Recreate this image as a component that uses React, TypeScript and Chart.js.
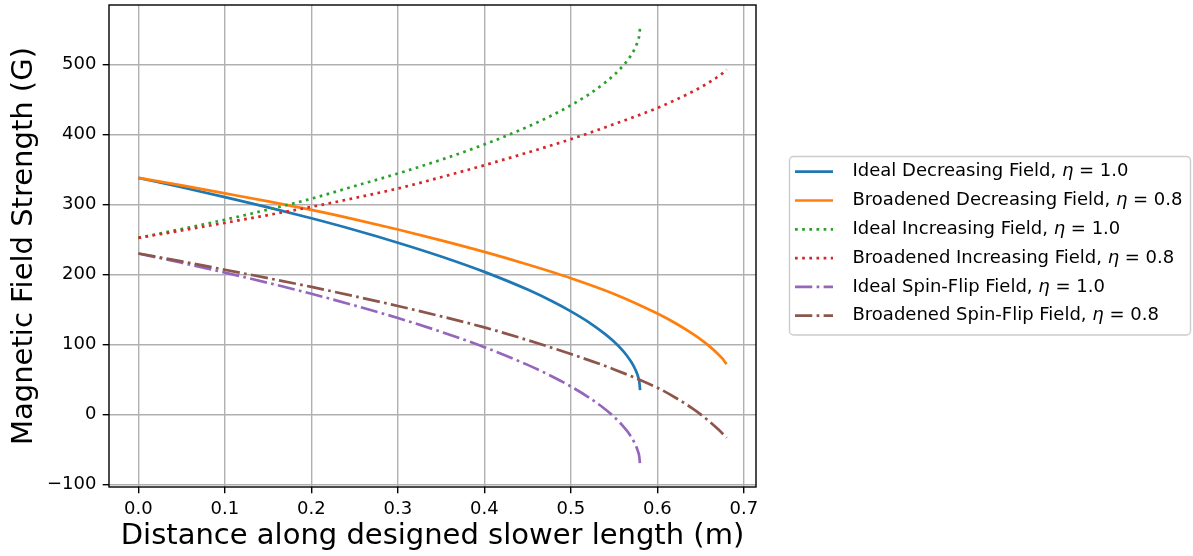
import React, { useEffect, useRef } from 'react';
import { Chart, registerables } from 'chart.js';

Chart.register(...registerables);

// x positions (m)
const idealX = [0, 0.05, 0.1, 0.15, 0.2, 0.25, 0.3, 0.35, 0.4, 0.45, 0.48, 0.5, 0.52, 0.54, 0.55, 0.56, 0.565, 0.57, 0.573, 0.575, 0.577, 0.578, 0.579, 0.58];
const broadX = [0, 0.05, 0.1, 0.15, 0.2, 0.25, 0.3, 0.35, 0.4, 0.45, 0.5, 0.55, 0.6, 0.62, 0.64, 0.65, 0.66, 0.67, 0.675, 0.68];

// field values (G)
const idealDecreasing = [337.7, 324.3, 310.3, 295.6, 280.0, 263.3, 245.2, 225.5, 203.5, 178.2, 160.5, 147.2, 132.2, 114.3, 103.6, 91.0, 83.4, 74.5, 68.0, 62.8, 56.5, 52.5, 47.3, 34.7];
const broadDecreasing = [337.7, 327.0, 315.6, 304.1, 292.0, 278.5, 264.0, 248.5, 232.0, 214.0, 194.5, 172.0, 144.0, 130.8, 115.6, 107.1, 97.5, 86.3, 79.8, 71.8];
const idealIncreasing = [252.0, 264.8, 278.0, 292.5, 308.0, 326.0, 344.0, 363.6, 385.5, 410.7, 428.2, 441.4, 456.4, 474.2, 484.8, 497.4, 504.8, 513.7, 520.2, 525.3, 531.6, 535.6, 540.8, 553.3];
const broadIncreasing = [252.0, 262.6, 273.5, 284.7, 296.3, 309.0, 322.6, 338.7, 355.8, 373.9, 393.0, 414.5, 437.5, 448.5, 460.5, 467.0, 474.3, 482.3, 486.8, 492.5];
const idealSpinFlip = [229.8, 216.5, 202.5, 187.8, 172.2, 155.5, 137.6, 117.9, 96.0, 70.7, 53.1, 39.8, 24.8, 7.0, -3.7, -16.3, -23.8, -32.7, -39.2, -44.3, -50.7, -54.7, -59.9, -72.4];
const broadSpinFlip = [229.8, 218.5, 206.5, 194.5, 182.0, 168.7, 154.8, 140.0, 124.2, 106.0, 86.2, 64.2, 38.0, 24.5, 9.0, 0.0, -10.0, -21.0, -27.0, -33.5];

const seriesNames = [
  'Ideal Decreasing Field',
  'Broadened Decreasing Field',
  'Ideal Increasing Field',
  'Broadened Increasing Field',
  'Ideal Spin-Flip Field',
  'Broadened Spin-Flip Field',
];
const etaValues = ['1.0', '0.8', '1.0', '0.8', '1.0', '0.8'];
const seriesColors = ['#1f77b4', '#ff7f0e', '#2ca02c', '#d62728', '#9467bd', '#8c564b'];

const xTitle = 'Distance along designed slower length (m)';
const yTitle = 'Magnetic Field Strength (G)';

const LW = 2.7;
const SOLID: number[] = [];
const DOTTED = [LW * 1, LW * 1.65];
const DASHDOT = [LW * 6.4, LW * 1.6, LW * 1, LW * 1.6];

const FONT = '"DejaVu Sans", sans-serif';

function pts(xs: number[], ys: number[]) {
  return xs.map((x, i) => ({ x, y: ys[i] }));
}

const legendPlugin = {
  id: 'mplLegend',
  afterDraw(chart: any) {
    const ctx = chart.ctx as CanvasRenderingContext2D;
    ctx.save();
    const bx = 789.5, by = 156.5, bw = 401, bh = 178.5, r = 4;
    ctx.beginPath();
    if ((ctx as any).roundRect) {
      (ctx as any).roundRect(bx, by, bw, bh, r);
    } else {
      ctx.rect(bx, by, bw, bh);
    }
    ctx.fillStyle = 'rgba(255,255,255,0.8)';
    ctx.fill();
    ctx.strokeStyle = '#cccccc';
    ctx.lineWidth = 1.4;
    ctx.stroke();

    chart.data.datasets.forEach((ds: any, i: number) => {
      const yc = 171.7 + i * 28.8;
      ctx.beginPath();
      ctx.setLineDash(ds.borderDash || []);
      ctx.lineWidth = ds.borderWidth;
      ctx.strokeStyle = ds.borderColor;
      ctx.lineCap = 'butt';
      ctx.moveTo(795, yc);
      ctx.lineTo(833, yc);
      ctx.stroke();
      ctx.setLineDash([]);

      ctx.fillStyle = '#000';
      ctx.textBaseline = 'middle';
      ctx.textAlign = 'left';
      const pre = seriesNames[i] + ', ';
      const post = ' = ' + etaValues[i];
      let x = 852.5;
      ctx.font = `18px ${FONT}`;
      ctx.fillText(pre, x, yc);
      x += ctx.measureText(pre).width;
      ctx.font = `italic 18px ${FONT}`;
      ctx.fillText('η', x, yc);
      x += ctx.measureText('η').width;
      ctx.font = `18px ${FONT}`;
      ctx.fillText(post, x, yc);
    });
    ctx.restore();
  },
};

const spinePlugin = {
  id: 'mplSpines',
  afterDatasetsDraw(chart: any) {
    const { ctx, chartArea } = chart;
    ctx.save();
    ctx.strokeStyle = '#000';
    ctx.lineWidth = 1.4;
    ctx.setLineDash([]);
    ctx.strokeRect(chartArea.left, chartArea.top, chartArea.right - chartArea.left, chartArea.bottom - chartArea.top);
    ctx.restore();
  },
};

export default function App() {
  const ref = useRef<HTMLCanvasElement | null>(null);

  useEffect(() => {
    document.body.style.margin = '0';
    const canvas = ref.current;
    if (!canvas) return;

    const dashes = [SOLID, SOLID, DOTTED, DOTTED, DASHDOT, DASHDOT];
    const xs = [idealX, broadX, idealX, broadX, idealX, broadX];
    const ys = [idealDecreasing, broadDecreasing, idealIncreasing, broadIncreasing, idealSpinFlip, broadSpinFlip];

    const datasets = seriesNames.map((name, i) => ({
      label: `${name}, η = ${etaValues[i]}`,
      data: pts(xs[i], ys[i]),
      borderColor: seriesColors[i],
      backgroundColor: seriesColors[i],
      borderWidth: LW,
      borderDash: dashes[i],
      borderCapStyle: 'butt' as const,
      pointRadius: 0,
      fill: false,
      cubicInterpolationMode: 'monotone' as const,
      order: seriesNames.length - 1 - i,
    }));

    const chart = new Chart(canvas, {
      type: 'line',
      data: { datasets },
      plugins: [spinePlugin, legendPlugin],
      options: {
        responsive: false,
        animation: false,
        devicePixelRatio: 1,
        layout: { padding: { top: 5, right: 437, left: 0, bottom: 0 } },
        plugins: {
          legend: { display: false },
          tooltip: { enabled: false },
        },
        scales: {
          x: {
            type: 'linear',
            min: -0.034,
            max: 0.714,
            afterFit(scale: any) {
              scale.height = 69;
              scale.paddingLeft = 0;
              scale.paddingRight = 0;
              scale.paddingTop = 0;
              scale.paddingBottom = 0;
            },
            border: { display: false },
            grid: {
              color: '#b0b0b0',
              lineWidth: 1.4,
              drawTicks: true,
              tickLength: 6.3,
              tickColor: '#000',
              tickWidth: 1.4,
            },
            ticks: {
              stepSize: 0.1,
              includeBounds: false,
              autoSkip: false,
              maxRotation: 0,
              minRotation: 0,
              padding: 5,
              color: '#000',
              font: { family: FONT, size: 18 },
              callback: (v: any) => Number(v).toFixed(1),
            },
            title: {
              display: true,
              text: xTitle,
              color: '#000',
              font: { family: FONT, size: 29 },
              padding: { top: 0, bottom: 2 },
            },
          },
          y: {
            type: 'linear',
            min: -103.7,
            max: 584.6,
            afterFit(scale: any) {
              scale.width = 109;
              scale.paddingLeft = 0;
              scale.paddingRight = 0;
              scale.paddingTop = 0;
              scale.paddingBottom = 0;
            },
            border: { display: false },
            grid: {
              color: '#b0b0b0',
              lineWidth: 1.4,
              drawTicks: true,
              tickLength: 6.3,
              tickColor: '#000',
              tickWidth: 1.4,
            },
            ticks: {
              stepSize: 100,
              includeBounds: false,
              autoSkip: false,
              padding: 6.3,
              color: '#000',
              font: { family: FONT, size: 18 },
              callback: (v: any) => String(Math.round(Number(v))).replace('-', '\u2212'),
            },
            title: {
              display: true,
              text: yTitle,
              color: '#000',
              font: { family: FONT, size: 29 },
              padding: { top: 7, bottom: 0 },
            },
          },
        },
      },
    });

    return () => {
      chart.destroy();
    };
  }, []);

  return (
    <div style={{ width: 1193, height: 556, background: '#fff' }}>
      <canvas ref={ref} width={1193} height={556} style={{ display: 'block' }} />
    </div>
  );
}
